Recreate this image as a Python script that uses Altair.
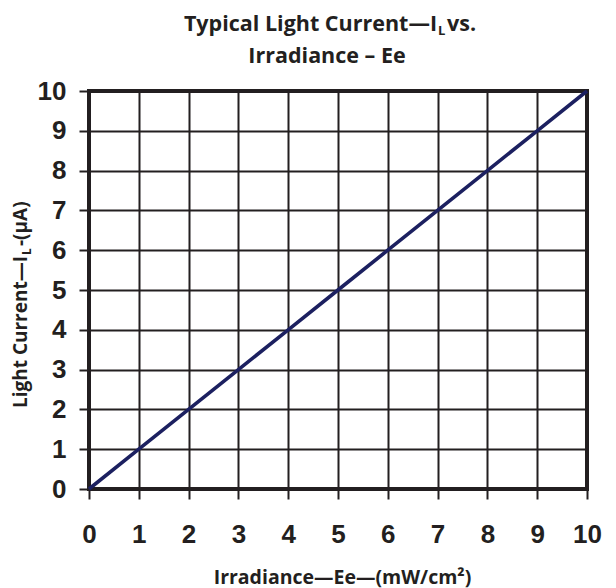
import altair as alt
import pandas as pd

# data
irradiance = [0, 1, 2, 3, 4, 5, 6, 7, 8, 9, 10]
light_current = [0, 1.0, 2.0, 3.0, 4.0, 5.0, 6.0, 7.0, 8.0, 9.0, 10.0]
ticks = list(range(0, 11))

title_line1_main = "Typical Light Current—I"
title_sub = "L"
title_line1_tail = " vs."
title_line2 = "Irradiance – Ee"
x_title = "Irradiance—Ee—(mW/cm²)"
y_title_main = "Light Current—I"
y_title_sub = "L"
y_title_tail = " -(µA)"

INK = "#231f20"
TFONT = "Open Sans"

df = pd.DataFrame({"x": irradiance, "y": light_current})
one = pd.DataFrame({"t": [0]})

axis_common = dict(
    values=ticks,
    grid=True,
    gridColor=INK,
    gridWidth=2,
    gridOpacity=1,
    domain=False,
    ticks=True,
    tickSize=10,
    tickWidth=2,
    tickColor=INK,
    labelFont="Liberation Sans",
    labelFontWeight="bold",
    labelFontSize=26,
    labelColor=INK,
    labelFlush=False,
    labelOverlap=False,
)

line = alt.Chart(df).mark_line(color="#1c2060", strokeWidth=3.6).encode(
    x=alt.X(
        "x:Q",
        scale=alt.Scale(domain=[0, 10], nice=False),
        axis=alt.Axis(
            **axis_common,
            labelPadding=22,
            title=x_title,
            titleFont=TFONT,
            titleFontWeight="bold",
            titleFontSize=19.5,
            titleColor=INK,
            titleBaseline="alphabetic",
            titleAlign="center",
            titleX=253,
            titleY=94,
        ),
    ),
    y=alt.Y(
        "y:Q",
        scale=alt.Scale(domain=[0, 10], nice=False),
        axis=alt.Axis(**axis_common, labelPadding=13, title=None),
    ),
)


def txt(text, x, y, size, align="left", angle=0):
    return alt.Chart(one).mark_text(
        text=text,
        font=TFONT,
        fontWeight="bold",
        fontSize=size,
        color=INK,
        align=align,
        baseline="alphabetic",
        angle=angle,
    ).encode(x=alt.value(x), y=alt.value(y))


layers = [
    line,
    txt(title_line1_main, 348, -60, 21.5, align="right"),
    txt(title_sub, 349, -56, 13),
    txt(title_line1_tail, 358, -60, 21.5),
    txt(title_line2, 238, -28, 21.5, align="center"),
    txt(y_title_main, -62, 165, 19, align="right", angle=270),
    txt(y_title_sub, -58, 164, 12, angle=270),
    txt(y_title_tail, -62, 155, 19, angle=270),
]

chart = alt.layer(*layers).properties(
    width=498,
    height=398,
    autosize=alt.AutoSizeParams(type="none"),
    padding={"left": 81, "top": 83, "right": 21, "bottom": 99},
).configure_view(stroke=INK, strokeWidth=4)

chart.save("out.html", embed_options={"renderer": "svg", "actions": False})
